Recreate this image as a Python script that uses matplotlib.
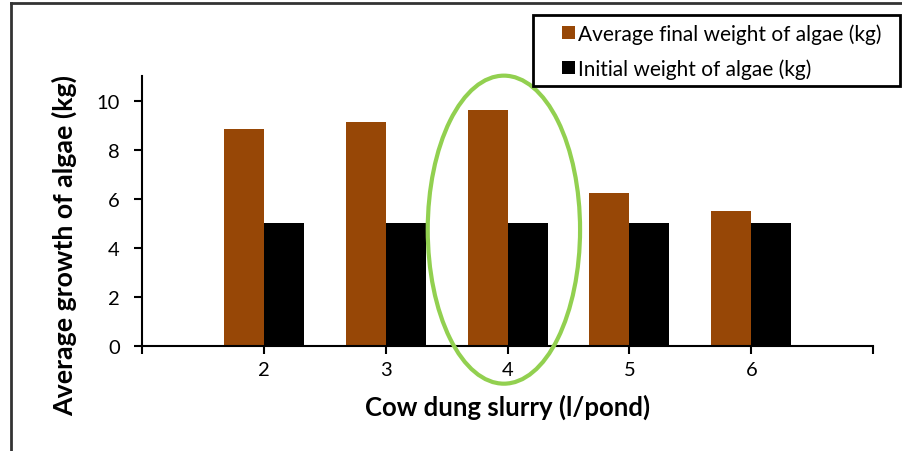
import matplotlib.pyplot as plt
from matplotlib.patches import Ellipse, Rectangle
from matplotlib.lines import Line2D

plt.rcParams['font.family'] = ['Lato', 'DejaVu Sans']

slurry = [2, 3, 4, 5, 6]
final_weight = [8.86, 9.13, 9.62, 6.25, 5.52]
initial_weight = [5, 5, 5, 5, 5]
yticks = [0, 2, 4, 6, 8, 10]

fig = plt.figure(figsize=(9.02, 4.52), dpi=100)
ax = fig.add_axes([0.1574, 0.2323, 0.968 - 0.1574, 0.5973])

w = 0.328
ax.bar([x - w / 2 for x in slurry], final_weight, width=w, color='#974706',
       label='Average final weight of algae (kg)')
ax.bar([x + w / 2 for x in slurry], initial_weight, width=w, color='black',
       label='Initial weight of algae (kg)')

ax.set_xlim(1, 7)
ax.set_ylim(0, 11)
ax.set_xticks([1] + slurry + [7])
ax.set_xticklabels([''] + [str(s) for s in slurry] + [''])
ax.set_yticks(yticks)
ax.tick_params(axis='both', labelsize=14.5, width=1.5, length=6, direction='out')
ax.tick_params(axis='x', pad=5)
ax.tick_params(axis='y', pad=10)
for s in ['top', 'right']:
    ax.spines[s].set_visible(False)
for s in ['left', 'bottom']:
    ax.spines[s].set_linewidth(1.5)

ax.set_xlabel('Cow dung slurry (l/pond)', fontsize=18.5, fontweight='bold')
ax.set_ylabel('Average growth of algae (kg)', fontsize=19.3, fontweight='bold')
ax.xaxis.set_label_coords(0.5, -0.175)
ax.yaxis.set_label_coords(-0.088, 0.375)

# highlight around the 4 l/pond group
ax.add_patch(Ellipse((3.97, 4.74), 1.25, 12.55, fill=False, edgecolor='#92D050',
                     linewidth=3, clip_on=False, zorder=5))

leg = fig.legend(loc='upper left', bbox_to_anchor=(562 / 902, 1 - 24 / 452), fontsize=15,
                 frameon=False, handlelength=0.6, handleheight=0.6, handletextpad=0.15,
                 borderpad=0, labelspacing=0.72, borderaxespad=0)
fig.add_artist(Rectangle((533 / 902, 1 - 87 / 452), 367 / 902, 71 / 452,
                         transform=fig.transFigure, fill=False,
                         edgecolor='black', linewidth=2))

# outer frame (left and top edges)
fig.add_artist(Line2D([0.0125, 0.0125], [0, 0.991], color='#333333', lw=2))
fig.add_artist(Line2D([0.0125, 1.0], [0.991, 0.991], color='#333333', lw=2))

fig.savefig('out.png', dpi=100)
